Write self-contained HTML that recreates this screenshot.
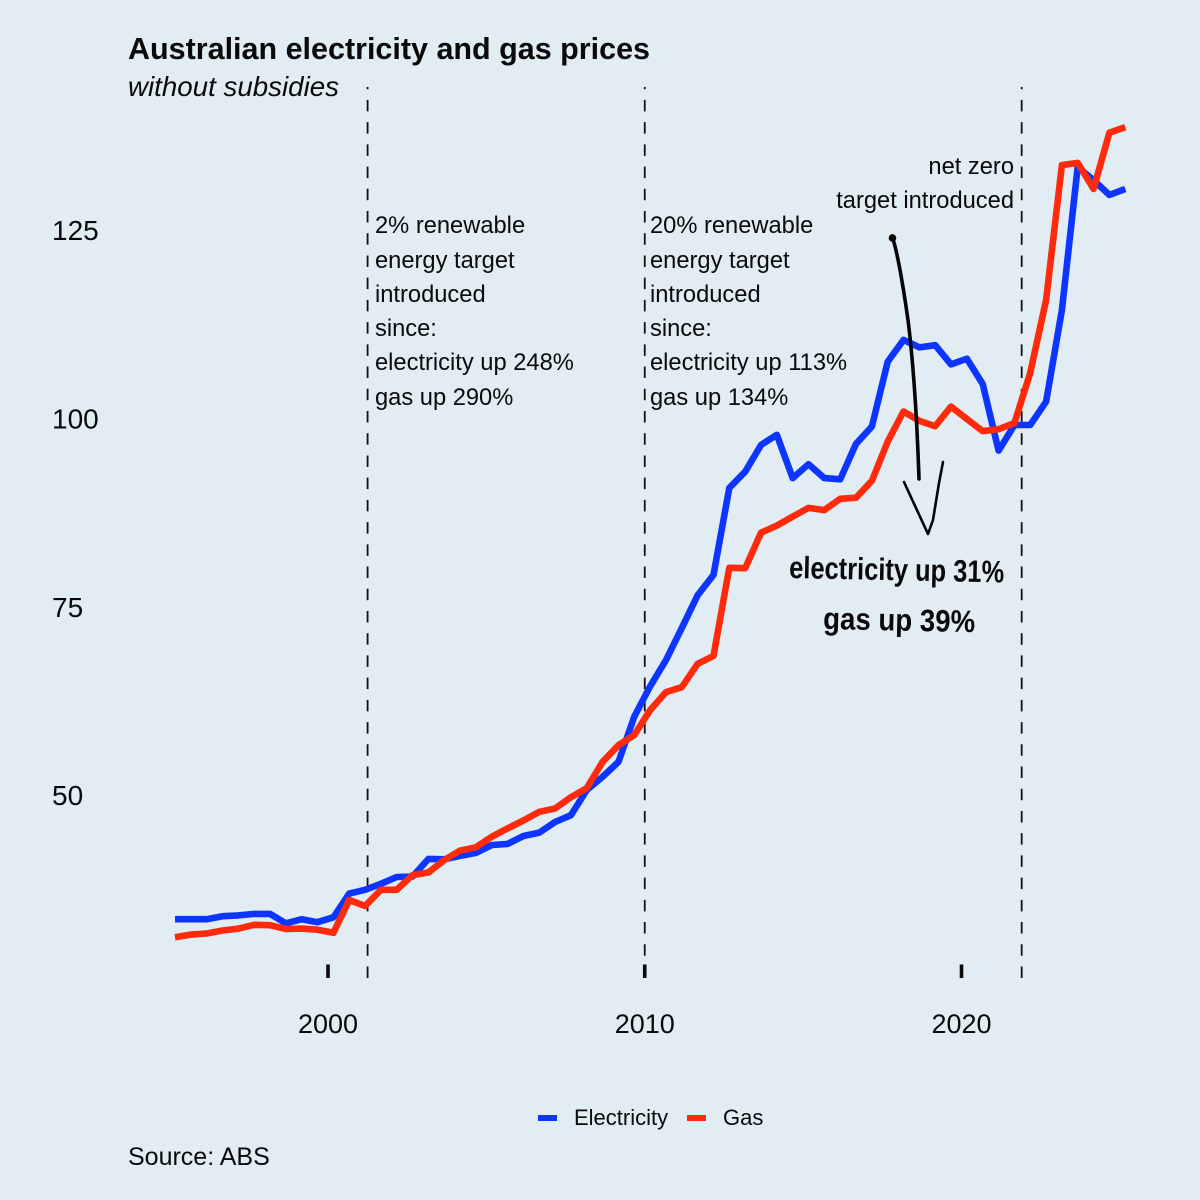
<!DOCTYPE html>
<html lang="en">
<head>
<meta charset="utf-8">
<title>Australian electricity and gas prices</title>
<style>
html,body{margin:0;padding:0;background:#e1ecf3;}
svg{display:block;}
text{font-family:"Liberation Sans",Arial,sans-serif;fill:#0a0a0a;}
</style>
</head>
<body>
<svg id="chart" xmlns="http://www.w3.org/2000/svg" width="1200" height="1200" viewBox="0 0 1200 1200">
  <rect width="1200" height="1200" fill="#e1ecf3"/>
  <text x="128" y="59" font-size="30.4" font-weight="700" textLength="522" lengthAdjust="spacingAndGlyphs">Australian electricity and gas prices</text>
  <text x="128" y="96" font-size="27.6" font-style="italic" textLength="211" lengthAdjust="spacingAndGlyphs">without subsidies</text>
  <g id="guides"></g>
  <g id="axes"></g>
  <g id="series"></g>

  <g font-size="23.7">
    <text x="375" y="233">2% renewable</text>
    <text x="375" y="268">energy target</text>
    <text x="375" y="302">introduced</text>
    <text x="375" y="336">since:</text>
    <text x="375" y="370">electricity up 248%</text>
    <text x="375" y="405">gas up 290%</text>
  </g>
  <g font-size="23.7">
    <text x="650" y="233">20% renewable</text>
    <text x="650" y="268">energy target</text>
    <text x="650" y="302">introduced</text>
    <text x="650" y="336">since:</text>
    <text x="650" y="370">electricity up 113%</text>
    <text x="650" y="405">gas up 134%</text>
  </g>
  <g font-size="23.7" text-anchor="end">
    <text x="1014" y="174">net zero</text>
    <text x="1014" y="208">target introduced</text>
  </g>

  <g fill="none" stroke="#050505" stroke-linecap="round" stroke-linejoin="round">
    <path d="M892 236 C897 250 903 285 908 320 C913 360 917 420 919 479" stroke-width="3.6"/>
    <circle cx="892.5" cy="238" r="3.8" fill="#050505" stroke="none"/>
    <path d="M904 482 L928 534 L933 520 L939 483 L943 462" stroke-width="2.6"/>
  </g>
  <text x="789" y="578" font-size="31" font-weight="700" textLength="215" lengthAdjust="spacingAndGlyphs" transform="rotate(1.2 789 578)">electricity up 31%</text>
  <text x="823" y="629" font-size="31" font-weight="700" textLength="152" lengthAdjust="spacingAndGlyphs" transform="rotate(1.2 823 629)">gas up 39%</text>

  <g>
    <rect x="538" y="1115" width="19" height="6" fill="#0d35ff"/>
    <text x="574" y="1125" font-size="22">Electricity</text>
    <rect x="687" y="1115" width="19" height="6" fill="#ff2a0c"/>
    <text x="723" y="1125" font-size="22">Gas</text>
  </g>
  <text x="128" y="1165" font-size="25">Source: ABS</text>
</svg>
<script>
const dates = [1995.17,1995.67,1996.17,1996.67,1997.17,1997.67,1998.17,1998.67,1999.17,1999.67,
  2000.17,2000.67,2001.17,2001.67,2002.17,2002.67,2003.17,2003.67,2004.17,2004.67,
  2005.17,2005.67,2006.17,2006.67,2007.17,2007.67,2008.17,2008.67,2009.17,2009.67,
  2010.17,2010.67,2011.17,2011.67,2012.17,2012.67,2013.17,2013.67,2014.17,2014.67,
  2015.17,2015.67,2016.17,2016.67,2017.17,2017.67,2018.17,2018.67,2019.17,2019.67,
  2020.17,2020.67,2021.17,2021.67,2022.17,2022.67,2023.17,2023.67,2024.17,2024.67,2025.17];
const electricity = [33.6,33.6,33.6,34.0,34.1,34.3,34.3,33.05,33.6,33.2,
  33.85,37.0,37.5,38.3,39.2,39.25,41.6,41.55,42.0,42.4,
  43.45,43.6,44.65,45.1,46.5,47.4,50.75,52.5,54.5,60.5,
  64.5,68.0,72.25,76.6,79.3,90.85,93.0,96.55,97.9,92.15,
  94.0,92.15,92.0,96.7,99.0,107.6,110.5,109.5,109.8,107.25,
  108.0,104.65,95.8,99.2,99.2,102.3,114.45,133.45,131.7,129.75,130.55];
const gas = [31.2,31.55,31.7,32.1,32.35,32.85,32.8,32.3,32.35,32.2,
  31.8,36.15,35.35,37.5,37.5,39.45,39.8,41.45,42.7,43.15,
  44.55,45.65,46.7,47.85,48.3,49.8,51.0,54.5,56.7,58.05,
  61.35,63.75,64.4,67.5,68.55,80.25,80.2,84.9,85.85,87.05,
  88.2,87.9,89.4,89.55,91.8,97.0,101.0,99.75,99.05,101.65,
  100.0,98.4,98.65,99.45,106.1,115.8,133.7,134.0,130.55,138.0,138.75];
const xTicks = [2000,2010,2020];
const yTicks = [50,75,100,125];
const eventYears = [2001.25,2010,2021.9];

function xScale(t){ return 328 + (t - 2000) * 31.675; }
function yScale(v){ return 419 - (v - 100) * 7.533; }

const NS = 'http://www.w3.org/2000/svg';
function make(tag, parent){
  const el = document.createElementNS(NS, tag);
  parent.appendChild(el);
  return el;
}

const guides = document.getElementById('guides');
eventYears.forEach(function(year){
  const el = make('line', guides);
  
  
  el.setAttribute('x1', xScale(year));
  el.setAttribute('x2', xScale(year));
  el.setAttribute('y1', 978);
  el.setAttribute('y2', 87);
  el.setAttribute('stroke', '#111');
  el.setAttribute('stroke-width', 1.8);
  el.setAttribute('stroke-dasharray', '11.5 10.72');
});

const axes = document.getElementById('axes');
xTicks.forEach(function(year){
  const tick = make('line', axes);
  
  
  tick.setAttribute('x1', xScale(year));
  tick.setAttribute('x2', xScale(year));
  tick.setAttribute('y1', 964.5);
  tick.setAttribute('y2', 978);
  tick.setAttribute('stroke', '#0a0a0a');
  tick.setAttribute('stroke-width', 3.6);
  const label = make('text', axes);
  
  
  label.setAttribute('x', xScale(year));
  label.setAttribute('y', 1033);
  label.setAttribute('font-size', 27);
  label.setAttribute('text-anchor', 'middle');
  label.textContent = String(year);
});
yTicks.forEach(function(value){
  const label = make('text', axes);
  
  
  label.setAttribute('x', 52);
  label.setAttribute('y', yScale(value) + 9.5);
  label.setAttribute('font-size', 28);
  label.textContent = String(value);
});

const seriesGroup = document.getElementById('series');
function drawSeries(values, colour, name){
  const el = make('path', seriesGroup);
  
  
  el.setAttribute('d', values.map(function(v, i){
    return (i ? 'L' : 'M') + xScale(dates[i]).toFixed(1) + ' ' + yScale(v).toFixed(1);
  }).join(' '));
  el.setAttribute('fill', 'none');
  el.setAttribute('stroke', colour);
  el.setAttribute('stroke-width', 6.6);
  el.setAttribute('stroke-linejoin', 'round');
}
drawSeries(electricity, '#0d35ff', 'electricity-line');
drawSeries(gas, '#ff2a0c', 'gas-line');
</script>
</body>
</html>
